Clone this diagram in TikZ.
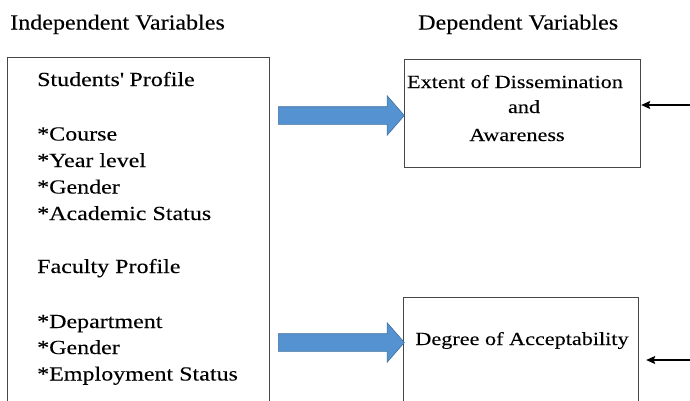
\documentclass[tikz,border=0pt]{standalone}
\usepackage{fontspec}
\setmainfont{Liberation Serif}[FakeStretch=1.2,FakeBold=0.12]
\newfontfamily\headfont{Liberation Serif}[FakeStretch=1.12,FakeBold=0.12]
\usetikzlibrary{arrows.meta,shapes.arrows}
\definecolor{arrowblue}{RGB}{84,146,210}
\definecolor{arrowedge}{RGB}{65,113,156}
\definecolor{boxline}{RGB}{70,70,70}
\tikzset{
  box/.style={draw=boxline, line width=1.2pt, rectangle, inner sep=0pt, anchor=north west},
  headtext/.style={inner sep=0pt, font=\headfont\fontsize{21.5}{24}\selectfont},
  bigtext/.style={inner sep=0pt, font=\fontsize{20}{24}\selectfont},
  smalltext/.style={inner sep=0pt, font=\fontsize{18.5}{22}\selectfont},
  fatarrow/.style={shape=single arrow, fill=arrowblue, draw=arrowedge, line width=0.6pt,
    inner sep=8.5pt, single arrow head extend=11pt, single arrow tip angle=98,
    minimum height=126pt},
  thinarrow/.style={draw=black, line width=1.1pt, -{Stealth[length=9pt,width=8pt,inset=1.5pt]}}
}
\begin{document}
\begin{tikzpicture}[x=1pt,y=-1pt]
\useasboundingbox (0,0) rectangle (690,400);
\clip (0,0) rectangle (690,400);
\fill[white] (0,0) rectangle (690,400);
% headers
\node[headtext, anchor=base west] (hind) at (10,29.5) {Independent Variables};
\node[headtext, anchor=base west] (hdep) at (418,29.5) {Dependent Variables};
% boxes
\node[box, minimum width=262pt, minimum height=360pt] (indep) at (7,57) {};
\node[box, minimum width=236pt, minimum height=108pt] (dep1) at (404,59) {};
\node[box, minimum width=235pt, minimum height=120pt] (dep2) at (403,297) {};
% left box text
\node[bigtext, anchor=base west] (sp) at (37,86) {Students\textquotesingle\ Profile};
\node[bigtext, anchor=base west] (c1) at (37,140.5) {*Course};
\node[bigtext, anchor=base west] (c2) at (37,167) {*Year level};
\node[bigtext, anchor=base west] (c3) at (37,193.5) {*Gender};
\node[bigtext, anchor=base west] (c4) at (37,220) {*Academic Status};
\node[bigtext, anchor=base west] (fp) at (37,273) {Faculty Profile};
\node[bigtext, anchor=base west] (f1) at (37,328) {*Department};
\node[bigtext, anchor=base west] (f2) at (37,354) {*Gender};
\node[bigtext, anchor=base west] (f3) at (37,380.5) {*Employment Status};
% right box text
\node[smalltext, anchor=base] (d1a) at (515,88) {Extent of Dissemination};
\node[smalltext, anchor=base] (d1b) at (524,113) {and};
\node[smalltext, anchor=base] (d1c) at (517,141) {Awareness};
\node[smalltext, anchor=base] (d2) at (522,345) {Degree of Acceptability};
% blue arrows
\node[fatarrow] (arrA) at (337.5,115.5) {};
\node[fatarrow] (arrB) at (337.5,342.5) {};
% black arrows from the right
\coordinate (r1) at (695,105);
\coordinate (r2) at (695,360);
\draw[thinarrow] (r1) -- (dep1.east |- r1);
\draw[thinarrow] (r2) -- ([xshift=7pt]dep2.east |- r2);
\end{tikzpicture}
\end{document}
